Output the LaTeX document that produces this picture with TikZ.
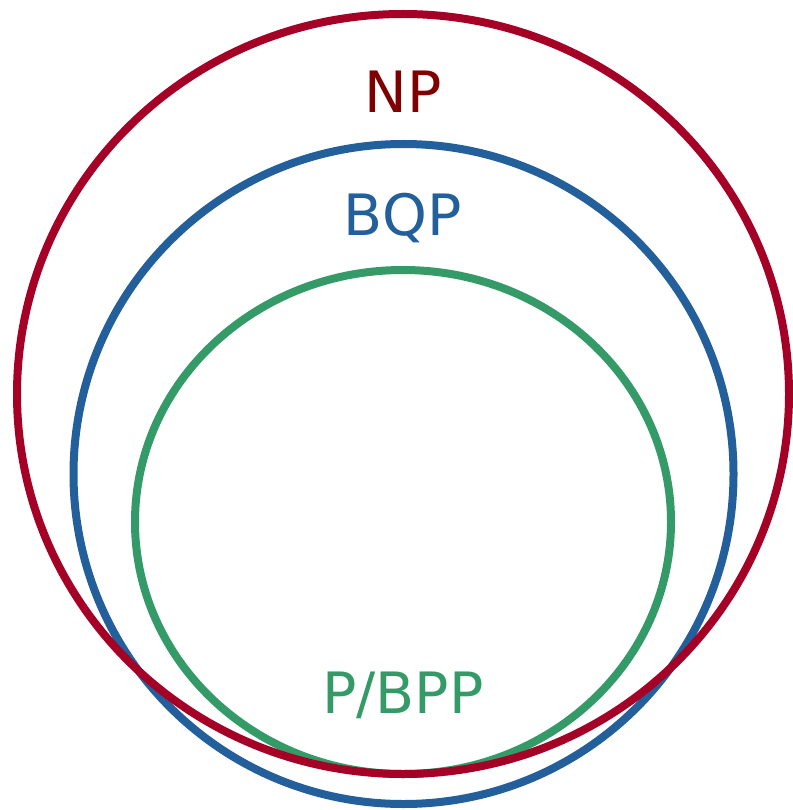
\documentclass[tikz,border=0pt]{standalone}
\usepackage{fontspec}
\setmainfont{DejaVu Sans}
\usepackage{xcolor}
\usepackage{tikz}
\usetikzlibrary{positioning}
\definecolor{npred}{HTML}{A50026}
\definecolor{nptext}{HTML}{7F0000}
\definecolor{bqpblue}{HTML}{235F9B}
\definecolor{bppgreen}{HTML}{349A67}
\tikzset{
  ring/.style={line width=8pt},
  lbl/.style={anchor=base,inner sep=0pt,font=\fontsize{57}{60}\selectfont}
}

\begin{document}
\begin{tikzpicture}[x=1pt,y=-1pt]
\useasboundingbox (0,0) rectangle (792,810);
% the three classes, inner one first
\draw[ring,bppgreen] (403,522) ellipse [x radius=268,y radius=252];
\draw[ring,bqpblue] (403.5,474) circle (330);
\draw[ring,npred] (403,394) ellipse [x radius=386,y radius=380];
\node[lbl,nptext] (np) at (403,113) {NP};
\node[lbl,bqpblue] (bqp) at (403,235) {BQP};
\node[lbl,bppgreen] (bpp) at (403,713) {P/BPP};
\end{tikzpicture}
\end{document}
